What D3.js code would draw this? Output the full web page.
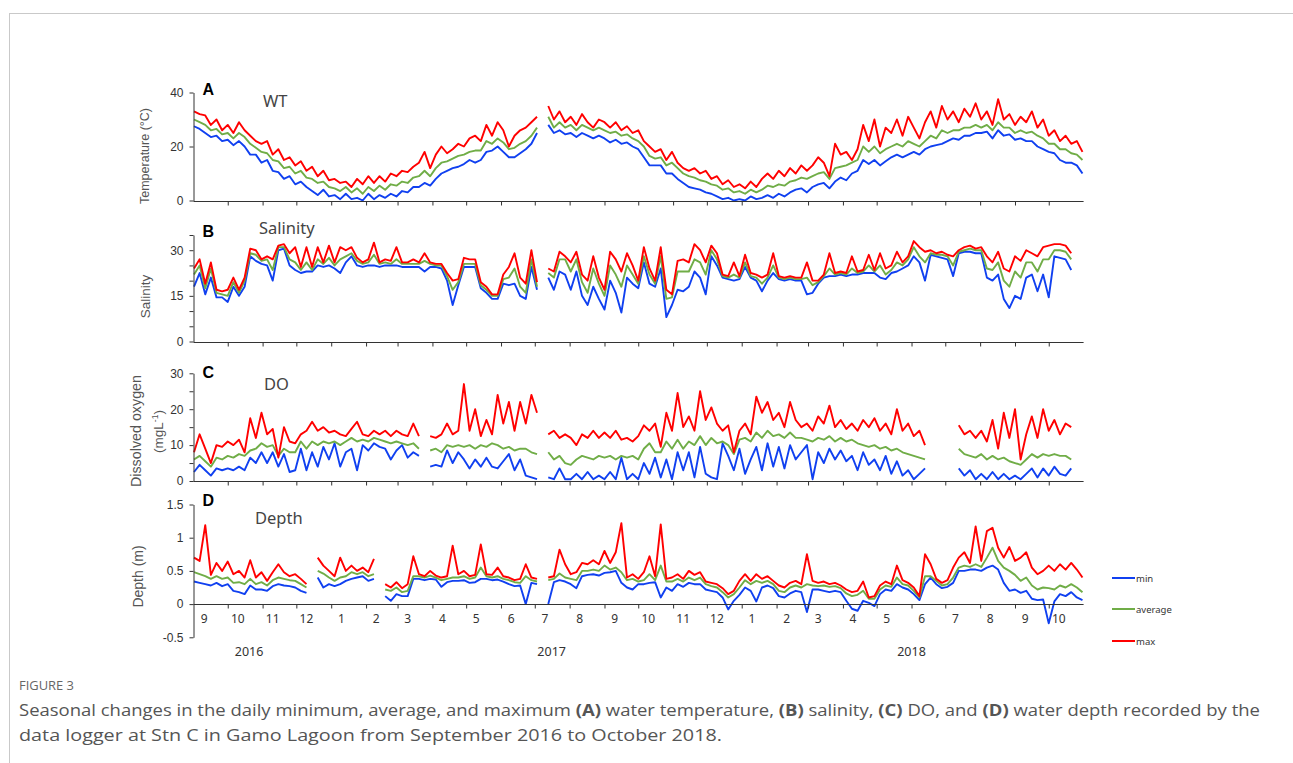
<!DOCTYPE html>
<html>
<head>
<meta charset="utf-8">
<script src="https://cdn.jsdelivr.net/npm/d3@7"></script>
<style>
  html, body { margin: 0; padding: 0; background: #fff; }
  svg { display: block; }
</style>
</head>
<body>
<svg id="fig" width="1293" height="763"></svg>
<script>
// Logger readings, sampled every 5 days from 1 Sep 2016 (index 0) to 31 Oct 2018 (index 158).
// null = no record (logger out of the water / being serviced).
const sampleStart = "2016-09-01";
const sampleStepDays = 5;

// (A) water temperature, °C
const tempMax = [33, 32, 31.5, 28, 30, 26, 28, 25, 29, 26,
  24, 22, 21, 22, 17, 19, 15, 16, 13, 14.5,
  11, 12.5, 9, 11, 7.5, 8, 6.5, 7, 5, 8,
  6, 9, 6.5, 9, 7, 10, 9, 11, 10.5, 12.5,
  14, 18, 12, 17, 20, 17.5, 19, 21, 20, 23,
  24, 22, 28, 24, 29, 26, 20, 24, 26, 27,
  29, 31, null, 35, 30, 33, 29, 31, 28, 32,
  29, 27, 30, 29, 27, 29, 26, 27.5, 25, 26,
  22, 20, 18, 19, 15, 18, 14, 12, 11, 12,
  10, 11, 8, 9, 6, 7.5, 5, 6, 4.5, 7,
  5, 8, 10, 8, 11, 9, 12, 10, 13, 11,
  13, 16, 14, 9, 21, 17, 18, 15, 19, 28,
  22, 30, 20, 27, 25, 30, 24, 31, 27, 23,
  29, 33, 27, 35, 30, 33, 29, 34, 31, 36,
  30, 33, 28, 37.5, 30, 32, 28, 31, 29, 33,
  27, 30, 24, 26, 22, 24, 21, 22, 18];
const tempAvg = [30, 29, 28, 26, 26.5, 24.5, 25, 23, 25, 23.5,
  21, 19.5, 18, 17.5, 15, 14.5, 12, 12.5, 10, 11,
  8.5, 8, 6.5, 7, 5, 4.5, 3.5, 5, 3, 4.5,
  2.5, 5, 3.5, 5.5, 4, 6, 5.5, 7, 6.5, 8.5,
  9, 11, 9, 12, 14, 14.5, 15.5, 16.5, 17, 18,
  18.5, 18.5, 22, 21, 23, 21.5, 19, 19.5, 21, 22,
  24, 27, null, 31, 27, 29, 27, 28, 26, 28,
  27, 26, 27, 26, 25, 25.5, 24, 24.5, 23, 22,
  20, 16.5, 15.5, 16, 13, 14, 12, 10, 9, 8.5,
  7.5, 7, 6, 5.5, 4, 4.5, 3, 3.5, 2.5, 4,
  3, 4, 5.5, 5, 6, 5.5, 7, 7.5, 8.5, 8,
  9, 10, 10.5, 8, 12, 12.5, 13, 14, 15, 20,
  18, 20, 17.5, 19, 20, 21, 20, 22, 21, 20,
  22, 24, 23, 26, 25, 26, 26, 27, 27, 28,
  27, 28, 26, 29, 27, 27, 25, 26, 25, 25.5,
  24, 23, 21, 21, 19, 19, 17.5, 17, 15];
const tempMin = [27.5, 26.5, 25, 23.5, 24, 22, 22.5, 20.5, 22, 20,
  17, 17, 14, 15, 11, 10.5, 8, 9, 6, 7,
  5, 3.5, 2, 4, 1.5, 2, 0.5, 2.5, 0.5, 1,
  0, 2.5, 0.5, 2, 1, 2.5, 1.5, 3.5, 3, 5,
  5, 6.5, 5.5, 8, 10, 11, 12, 12.5, 13.5, 15,
  14, 15, 18, 18.5, 20, 18, 16, 16, 17.5, 19,
  21, 25, null, 28, 25, 26, 24.5, 25, 23.5, 25,
  24, 23, 24, 23, 21.5, 22.5, 21, 21.5, 20, 19,
  16, 13, 13, 13, 10, 10, 8, 6.5, 5, 4.5,
  4, 3, 2.5, 1.5, 0.5, 1, 0, 0.5, 0, 1.5,
  0.5, 1, 2, 1, 2.5, 1.5, 3, 4, 4.5, 3,
  5, 6, 6.5, 4.5, 7, 8.5, 7.5, 10, 11, 15,
  13.5, 15, 13, 14.5, 16, 17, 16, 17, 18, 17,
  19, 20, 20.5, 21, 22, 23, 22.5, 24, 24, 25,
  25, 25.5, 23, 26, 24, 24.5, 22.5, 23, 22, 22,
  20, 19, 18, 17.5, 15, 14, 14, 13, 10];

// (B) salinity
const salMax = [24, 27, 19, 26, 17, 16.5, 17, 21, 17, 21,
  30.5, 30, 27, 28, 27, 31.5, 32, 29, 31, 24.5,
  31, 24.5, 31, 26, 31.5, 26, 31, 30, 31, 27.5,
  26, 27, 32.5, 26, 27, 26.5, 31, 26, 26, 27,
  26, 29, 26, 25.5, 25.5, 22.5, 20, 20.5, 27.5, 27,
  27, 19.5, 18, 15.5, 15.5, 22, 24.5, 29, 21, 19,
  30, 19.5, null, 24, 23, 29.5, 28, 26, 29.5, 22,
  20, 28, 21, 17, 29.5, 27, 23, 29, 25, 20,
  31, 24, 20, 31, 17, 15.5, 26.5, 27, 26, 32,
  30, 26, 31.5, 29, 22, 21.5, 26, 21.5, 28.5, 22.5,
  22, 21, 22, 29, 21.5, 21, 21.5, 21, 21, 26,
  20, 20, 22, 29, 22.5, 23, 22.5, 28, 23, 23.5,
  28.5, 23.5, 29, 24, 25, 29.5, 26, 28, 33, 31,
  29.5, 30, 29, 29.5, 28.5, 28, 30, 31, 31.5, 30.5,
  31, 28, 26, 29.5, 24, 23, 28, 26.5, 30, 29,
  28, 31, 31.5, 32, 32, 31.5, 29, null, null];
const salAvg = [22, 25, 17.5, 24, 16, 15.5, 15, 19.5, 16, 20,
  29, 28.5, 26.5, 27, 23.5, 31, 31, 27, 26, 23.5,
  26, 23.5, 27, 25.5, 27.5, 25, 27, 28, 29, 26.5,
  25.5, 26, 28.5, 25.5, 26, 25.5, 27, 25.5, 25.5, 25.5,
  25.5, 26.5, 25.5, 25, 25, 21.5, 17, 19.5, 25.5, 25.5,
  25.5, 18.5, 17, 15, 15, 20.5, 21, 24, 18, 16,
  27, 18, null, 22.5, 21, 27, 27, 23, 27, 19.5,
  16, 24, 19, 15, 25, 22, 18, 25, 22, 19,
  28, 22, 19, 28, 14, 14.5, 23, 23, 23, 27,
  26, 22, 30, 27, 21.5, 21, 22, 21, 26, 21.5,
  21, 19, 21, 25, 21, 20.5, 21, 20.5, 20.5, 21,
  18.5, 19.5, 21.5, 24, 22, 22.5, 22, 24, 22.5, 23,
  25, 23, 25, 22, 23.5, 26, 25, 27, 31, 28,
  26, 29, 28.5, 28.5, 28, 25, 29.5, 30, 30.5, 30,
  30, 24, 23.5, 26, 20, 18, 23, 21, 26, 26,
  23, 27, 27, 30, 30, 29.5, 27, null, null];
const salMin = [18, 22.5, 15.5, 21, 14.5, 14.5, 13, 18, 15, 18,
  28, 26.5, 25.5, 25, 20, 30, 30.5, 25, 23.5, 22.5,
  23, 23, 25, 24.5, 25, 24, 22.5, 26, 28, 25,
  24.5, 25, 25, 24.5, 25, 25, 25, 24.5, 24.5, 24.5,
  24.5, 23, 24.5, 24.5, 24, 20, 12, 18.5, 24.5, 24.5,
  24.5, 17.5, 16, 14, 14, 19, 18.5, 19, 15, 14,
  24.5, 17, null, 21, 17, 23, 22, 17, 23, 15,
  12, 18, 14, 10.5, 20, 16, 9.5, 21, 19, 17.5,
  26, 19, 18, 24, 8, 12, 17, 16.5, 18, 23,
  21, 15.5, 28, 25, 21, 20.5, 20, 20.5, 24.5, 21,
  20, 16.5, 20, 22.5, 20.5, 20, 20.5, 20, 20, 15.5,
  16, 19, 21, 21.5, 21.5, 22, 21.5, 22, 22, 22.5,
  22.5, 22.5, 21, 20.5, 22.5, 23, 24, 25, 28, 26,
  20, 28.5, 28, 27.5, 27, 21.5, 29, 29.5, 29.5, 29,
  29, 21, 20, 22, 14, 11, 15, 14, 21, 22,
  16.5, 22, 14.5, 28, 27.5, 27, 23.5, null, null];

// (C) dissolved oxygen, mg/L
const doMax = [8, 13, 9, 5, 10, 9.5, 11, 10, 11.5, 8,
  17.5, 12, 19, 13, 14.5, 6.5, 15, 11, 10.5, 13,
  14, 16.5, 14, 15, 13.5, 14, 13, 12.5, 14.5, 16.5,
  13, 12.5, 14, 13, 14, 12.5, 14, 13, 12.5, 16,
  12.5, null, 12.5, 12, 13, 16, 13, 14, 27, 14,
  20, 12.5, 17, 13, 24, 16, 22, 14, 22, 16,
  24, 19, null, 13, 14, 12, 13, 12, 10, 13,
  12, 14, 12, 13.5, 12, 14, 11.5, 12, 11, 12.5,
  15.5, 14, 16, 9.5, 19, 14, 24.5, 15, 18, 14,
  25, 17, 20.5, 16, 14, 15.5, 8, 14, 16, 13,
  23.5, 19, 22, 17, 19, 15, 22, 17, 15, 16,
  14, 18, 16, 21, 15, 17, 14.5, 16, 14, 17,
  15, 17.5, 14, 16, 13, 20, 14, 16, 12.5, 14,
  10, null, null, null, null, null, 15.5, 13, 14, 12,
  14, 11, 17, 9, 19, 12, 20, 6, 13, 18,
  12, 20, 14, 17, 13, 16, 15, null, null];
const doAvg = [6, 7, 5.5, 4, 6.5, 6, 7, 6.5, 7.5, 7,
  8.5, 9, 10.5, 9.5, 10, 7, 9, 8, 8, 11,
  9, 11, 10, 11, 10.5, 11, 10, 11, 12, 11,
  11.5, 11, 12, 11.5, 11, 10.5, 11, 10.5, 10, 10.5,
  9, null, 8.5, 9, 8, 10, 9.5, 10, 9.5, 10,
  9, 10, 9.5, 10.5, 10, 9, 9.5, 8.5, 9, 9,
  8, 7.5, null, 8, 6, 7, 5, 4.5, 6, 7,
  6.5, 6, 7, 6.5, 7, 6, 7, 6.5, 7, 6,
  9, 10.5, 8, 8, 11, 9, 11.5, 9, 11, 10,
  12.5, 10, 12, 10.5, 11, 10, 7.5, 11.5, 12, 11,
  13.5, 12, 14, 12.5, 13, 12, 13.5, 12, 12, 11.5,
  11, 12, 11.5, 12.5, 11, 12, 11, 11.5, 10.5, 10,
  9.5, 10, 9, 9.5, 8.5, 9, 8, 7.5, 7, 6.5,
  6, null, null, null, null, null, 9, 7.5, 7, 6.5,
  7.5, 6, 7, 6, 6.5, 5.5, 5, 4.5, 6, 7.5,
  6.5, 7.5, 7, 7.5, 7, 7, 6, null, null];
const doMin = [2.5, 4.5, 3, 1.5, 3.5, 3, 3.5, 3, 4, 3,
  6.5, 5, 8, 5, 8, 4, 7.5, 2.5, 3, 9,
  3, 8, 4, 9.5, 6, 10.5, 4, 8, 9, 3,
  10, 8.5, 10.5, 9.5, 9, 6, 8.5, 10, 6.5, 8,
  7, null, 4, 4.5, 4, 8.5, 5, 8, 6, 3.5,
  6, 4, 6.5, 4, 3.5, 5.5, 7.5, 3, 6, 1.5,
  1, 0.5, null, 1, 0.5, 3.5, 0.5, 0.5, 2, 0.5,
  2.5, 0.5, 1.5, 0.5, 2.5, 0.5, 6.5, 0.5, 2, 0.5,
  5, 2, 6.5, 1, 6, 0.5, 8, 3, 8, 1,
  9.5, 2, 1, 0.5, 10.5, 7, 3, 9, 2, 6,
  9.5, 3, 10.5, 4, 9.5, 3.5, 10, 6, 8, 10,
  0.5, 8, 5, 9, 6, 8.5, 5.5, 7, 3, 8,
  4.5, 6, 3, 7, 2, 5.5, 1.5, 3, 0.5, 2,
  3.5, null, null, null, null, null, 3.5, 1.5, 3, 0.5,
  2, 0.5, 2.5, 0.5, 2, 0.5, 1.5, 0.5, 2, 3.5,
  1, 3.5, 1.5, 4, 2, 1.5, 3.5, null, null];

// (D) water depth, m
const depthMax = [0.7, 0.65, 1.19, 0.44, 0.62, 0.5, 0.64, 0.45, 0.5, 0.4,
  0.66, 0.4, 0.48, 0.35, 0.48, 0.6, 0.48, 0.42, 0.45, 0.38,
  0.3, null, 0.7, 0.58, 0.5, 0.42, 0.7, 0.5, 0.58, 0.5,
  0.55, 0.48, 0.68, null, 0.3, 0.25, 0.33, 0.24, 0.3, 0.72,
  0.45, 0.42, 0.5, 0.43, 0.4, 0.42, 0.88, 0.45, 0.5, 0.42,
  0.44, 0.9, 0.45, 0.44, 0.55, 0.42, 0.4, 0.36, 0.38, 0.6,
  0.4, 0.38, null, 0.4, 0.42, 0.82, 0.6, 0.45, 0.48, 0.62,
  0.6, 0.66, 0.6, 0.8, 0.62, 0.78, 1.22, 0.4, 0.45, 0.38,
  0.48, 0.72, 0.42, 1.2, 0.38, 0.4, 0.45, 0.38, 0.5, 0.44,
  0.48, 0.34, 0.32, 0.3, 0.24, 0.15, 0.2, 0.35, 0.45, 0.35,
  0.45, 0.38, 0.42, 0.35, 0.28, 0.25, 0.32, 0.35, 0.3, 0.75,
  0.35, 0.32, 0.34, 0.3, 0.32, 0.28, 0.22, 0.18, 0.2, 0.34,
  0.1, 0.12, 0.28, 0.34, 0.3, 0.58, 0.36, 0.32, 0.25, 0.12,
  0.75, 0.6, 0.38, 0.32, 0.36, 0.55, 0.7, 0.78, 0.62, 1.17,
  0.65, 1.1, 1.15, 0.85, 0.7, 0.86, 0.65, 0.7, 0.78, 0.55,
  0.45, 0.5, 0.58, 0.5, 0.6, 0.52, 0.62, 0.52, 0.4];
const depthAvg = [0.48, 0.45, 0.42, 0.38, 0.42, 0.38, 0.4, 0.32, 0.33, 0.3,
  0.38, 0.3, 0.33, 0.28, 0.36, 0.4, 0.38, 0.36, 0.35, 0.3,
  0.25, null, 0.5, 0.46, 0.4, 0.35, 0.4, 0.42, 0.48, 0.45,
  0.48, 0.42, 0.45, null, 0.22, 0.2, 0.25, 0.18, 0.2, 0.42,
  0.42, 0.4, 0.43, 0.4, 0.36, 0.38, 0.4, 0.4, 0.42, 0.38,
  0.4, 0.55, 0.42, 0.4, 0.42, 0.38, 0.36, 0.33, 0.32, 0.42,
  0.36, 0.34, null, 0.36, 0.38, 0.46, 0.4, 0.38, 0.36, 0.5,
  0.5, 0.52, 0.5, 0.58, 0.52, 0.55, 0.48, 0.36, 0.38, 0.34,
  0.36, 0.45, 0.36, 0.58, 0.34, 0.34, 0.38, 0.34, 0.4, 0.36,
  0.4, 0.3, 0.27, 0.25, 0.18, 0.1, 0.15, 0.25, 0.36, 0.3,
  0.35, 0.32, 0.35, 0.3, 0.2, 0.18, 0.25, 0.28, 0.25, 0.3,
  0.28, 0.27, 0.28, 0.26, 0.27, 0.24, 0.16, 0.12, 0.14, 0.2,
  0.08, 0.08, 0.22, 0.28, 0.26, 0.4, 0.3, 0.28, 0.2, 0.1,
  0.42, 0.42, 0.35, 0.28, 0.3, 0.4, 0.55, 0.58, 0.56, 0.6,
  0.56, 0.7, 0.85, 0.65, 0.55, 0.5, 0.44, 0.35, 0.4, 0.28,
  0.22, 0.25, 0.24, 0.22, 0.28, 0.25, 0.3, 0.25, 0.18];
const depthMin = [0.34, 0.32, 0.3, 0.28, 0.32, 0.27, 0.3, 0.2, 0.18, 0.15,
  0.28, 0.22, 0.22, 0.2, 0.27, 0.3, 0.28, 0.27, 0.25, 0.2,
  0.17, null, 0.4, 0.25, 0.3, 0.27, 0.3, 0.35, 0.38, 0.4,
  0.42, 0.35, 0.38, null, 0.12, 0.05, 0.15, 0.12, 0.12, 0.38,
  0.38, 0.36, 0.38, 0.37, 0.26, 0.33, 0.35, 0.35, 0.36, 0.32,
  0.33, 0.38, 0.38, 0.36, 0.37, 0.34, 0.3, 0.27, 0.28, 0,
  0.32, 0.3, null, 0, 0.33, 0.36, 0.34, 0.3, 0.24, 0.42,
  0.44, 0.45, 0.43, 0.47, 0.48, 0.5, 0.32, 0.25, 0.22, 0.3,
  0.3, 0.32, 0.33, 0.1, 0.25, 0.2, 0.3, 0.26, 0.32, 0.3,
  0.3, 0.22, 0.2, 0.18, 0.1, -0.08, 0.05, 0.14, 0.25, 0.2,
  0.04, 0.25, 0.28, 0.24, 0.12, 0.1, 0.16, 0.2, 0.18, -0.12,
  0.22, 0.22, 0.2, 0.18, 0.2, 0.18, 0.05, -0.07, -0.1, 0.05,
  0.02, -0.03, 0.15, 0.22, 0.2, 0.3, 0.25, 0.22, 0.15, 0.06,
  0.3, 0.4, 0.3, 0.24, 0.26, 0.32, 0.5, 0.5, 0.52, 0.52,
  0.5, 0.55, 0.58, 0.52, 0.32, 0.2, 0.22, 0.17, 0.2, 0.08,
  0.06, 0.07, -0.29, 0.04, 0.15, 0.12, 0.18, 0.1, 0.06];

// Axis labels
const monthLabels = ["9","10","11","12","1","2","3","4","5","6","7","8",
  "9","10","11","12","1","2","3","4","5","6","7","8","9","10"];
const yearLabels = ["2016", "2017", "2018"];
const yearLabelDates = ["2016-10-20", "2017-07-16", "2018-06-01"];
const seriesNames = ["min", "average", "max"];
const seriesColors = ["#1040f0", "#70ad47", "#ff0000"];

const tempTicks = [0, 20, 40], tempTickLabels = [0, 20, 40];
const salTicks = [0, 5, 10, 15, 20, 25, 30, 35], salTickLabels = [0, 15, 30];
const doTicks = [0, 5, 10, 15, 20, 25, 30], doTickLabels = [0, 10, 20, 30];
const depthTicks = [-0.5, 0, 0.5, 1, 1.5], depthTickLabels = [-0.5, 0, 0.5, 1, 1.5];

// ---------------------------------------------------------------------------
const svg = d3.select("#fig");
const parse = d3.utcParse("%Y-%m-%d");
const t0 = parse(sampleStart);
const dates = tempMax.map((_, i) => d3.utcDay.offset(t0, i * sampleStepDays));

const x = d3.scaleUtc()
  .domain([t0, parse("2018-11-01")])
  .range([194, 1083.6]);

const AXIS_X = 193.5;
const axisColor = "#333";
const tickFont = "'Liberation Sans', Arial, sans-serif";

// frame around the figure
svg.append("rect")
  .attr("x", 9.5).attr("y", 13.5)
  .attr("width", 1300).attr("height", 770)
  .attr("fill", "none").attr("stroke", "#c9c9c9").attr("stroke-width", 1);

const panels = [
  { letter: "A", title: "WT", titleX: 263, titleY: 107.3, letterY: 95,
    series: [tempMin, tempAvg, tempMax], domain: [0, 40], range: [200.5, 92.5],
    ticks: tempTicks, tickLabels: tempTickLabels, baseline: 0 },
  { letter: "B", title: "Salinity", titleX: 259, titleY: 234, letterY: 236.5,
    series: [salMin, salAvg, salMax], domain: [0, 35], range: [341.5, 235],
    ticks: salTicks, tickLabels: salTickLabels, baseline: 0 },
  { letter: "C", title: "DO", titleX: 264, titleY: 390, letterY: 378.3,
    series: [doMin, doAvg, doMax], domain: [0, 30], range: [481, 373.3],
    ticks: doTicks, tickLabels: doTickLabels, baseline: 0 },
  { letter: "D", title: "Depth", titleX: 255, titleY: 524, letterY: 505.7,
    series: [depthMin, depthAvg, depthMax], domain: [-0.5, 1.5], range: [637.3, 504.5],
    ticks: depthTicks, tickLabels: depthTickLabels, baseline: 0 }
];

const monthTicks = d3.utcMonth.range(parse("2016-10-01"), parse("2018-10-02"));

panels.forEach(p => {
  const y = d3.scaleLinear().domain(p.domain).range(p.range);
  const g = svg.append("g");

  // data lines: min, average, max (max drawn last, on top)
  p.series.forEach((vals, k) => {
    const line = d3.line()
      .defined((d, i) => vals[i] !== null)
      .x((d, i) => x(dates[i]))
      .y((d, i) => y(vals[i]));
    g.append("path")
      .datum(vals)
      .attr("d", line)
      .attr("fill", "none")
      .attr("stroke", seriesColors[k])
      .attr("stroke-width", 1.9)
      .attr("stroke-linejoin", "round");
  });

  // x axis along the zero line
  const x0 = Math.round(y(p.baseline)) + 0.5;
  const xAxis = g.append("g")
    .attr("transform", `translate(0,${x0})`)
    .call(d3.axisBottom(x).tickValues(monthTicks).tickFormat("").tickSize(4).tickSizeOuter(0));
  xAxis.select(".domain").attr("stroke", axisColor).attr("d", `M${AXIS_X},0H${x.range()[1]}`);
  xAxis.selectAll(".tick line").attr("stroke", axisColor);

  // y axis
  const yAxis = g.append("g")
    .attr("transform", `translate(${AXIS_X},0)`)
    .call(d3.axisLeft(y).tickValues(p.ticks)
      .tickFormat(d => p.tickLabels.includes(d) ? String(d) : "")
      .tickSize(4).tickSizeOuter(0).tickPadding(6));
  yAxis.select(".domain").attr("stroke", axisColor);
  yAxis.selectAll(".tick line").attr("stroke", axisColor);
  yAxis.selectAll(".tick text")
    .attr("font-family", tickFont).attr("font-size", 12).attr("fill", "#333");

  // panel letter and title
  svg.append("text").attr("x", 202.5).attr("y", p.letterY)
    .attr("font-family", "'Liberation Sans', Arial, sans-serif")
    .attr("font-weight", "bold").attr("font-size", 16).attr("fill", "#000")
    .text(p.letter);
  svg.append("text").attr("x", p.titleX).attr("y", p.titleY)
    .attr("font-family", "'Noto Sans', sans-serif")
    .attr("font-size", 16.5).attr("fill", "#444")
    .text(p.title);
});

// month and year labels under the depth panel
const labelMonths = d3.utcMonth.range(parse("2016-09-01"), parse("2018-11-01"));
svg.append("g").selectAll("text")
  .data(monthLabels)
  .join("text")
  .attr("x", (d, i) => x(d3.utcDay.offset(labelMonths[i], 9)))
  .attr("y", 623)
  .attr("text-anchor", "middle")
  .attr("font-family", "'Noto Sans', sans-serif")
  .attr("font-size", 12).attr("fill", "#333")
  .text(d => d);

svg.append("g").selectAll("text")
  .data(yearLabels)
  .join("text")
  .attr("x", (d, i) => x(parse(yearLabelDates[i])))
  .attr("y", 656)
  .attr("text-anchor", "middle")
  .attr("font-family", "'Noto Sans', sans-serif")
  .attr("font-size", 12.5).attr("fill", "#333")
  .text(d => d);

// y-axis titles
function vTitle(text, cx, cy, size) {
  return svg.append("text")
    .attr("transform", `translate(${cx},${cy}) rotate(-90)`)
    .attr("text-anchor", "middle")
    .attr("font-family", "'Liberation Sans', Arial, sans-serif")
    .attr("font-size", size).attr("fill", "#555")
    .text(text);
}
vTitle("Temperature (°C)", 149, 156, 12.5);
vTitle("Salinity", 150, 296.5, 13.5);
vTitle("Dissolved oxygen", 141, 431, 14.3);
const unit = svg.append("text")
  .attr("transform", "translate(163,431.5) rotate(-90)")
  .attr("text-anchor", "middle")
  .attr("font-family", "'Liberation Sans', Arial, sans-serif")
  .attr("font-size", 13.5).attr("fill", "#555");
unit.append("tspan").text("(mgL");
unit.append("tspan").attr("font-size", 8.5).attr("dy", -5).text("-1");
unit.append("tspan").attr("dy", 5).text(")");
vTitle("Depth (m)", 143, 576.5, 14);

// legend
const legendY = [578, 609, 641];
const legend = svg.append("g");
seriesNames.forEach((name, k) => {
  legend.append("line")
    .attr("x1", 1112).attr("x2", 1135)
    .attr("y1", legendY[k]).attr("y2", legendY[k])
    .attr("stroke", seriesColors[k]).attr("stroke-width", 2);
  legend.append("text")
    .attr("x", 1136).attr("y", legendY[k] + 3.5)
    .attr("font-family", "'Noto Sans', sans-serif")
    .attr("font-size", 9.5).attr("fill", "#333")
    .text(name);
});

// figure caption
const capFont = "'Open Sans', 'Noto Sans', sans-serif";
svg.append("text")
  .attr("x", 19).attr("y", 690)
  .attr("font-family", capFont).attr("font-size", 12.5)
  .attr("fill", "#666").attr("textLength", 55).attr("lengthAdjust", "spacingAndGlyphs")
  .text("FIGURE 3");

const cap1 = svg.append("text")
  .attr("x", 19).attr("y", 716)
  .attr("font-family", capFont).attr("font-size", 16.5).attr("fill", "#555")
  .attr("textLength", 1241).attr("lengthAdjust", "spacingAndGlyphs");
[["Seasonal changes in the daily minimum, average, and maximum ", false],
 ["(A)", true], [" water temperature, ", false],
 ["(B)", true], [" salinity, ", false],
 ["(C)", true], [" DO, and ", false],
 ["(D)", true], [" water depth recorded by the", false]
].forEach(([t, b]) => cap1.append("tspan").attr("font-weight", b ? "bold" : null).text(t));

svg.append("text")
  .attr("x", 19).attr("y", 741)
  .attr("font-family", capFont).attr("font-size", 16.5).attr("fill", "#555")
  .attr("textLength", 703).attr("lengthAdjust", "spacingAndGlyphs")
  .text("data logger at Stn C in Gamo Lagoon from September 2016 to October 2018.");
</script>
</body>
</html>
